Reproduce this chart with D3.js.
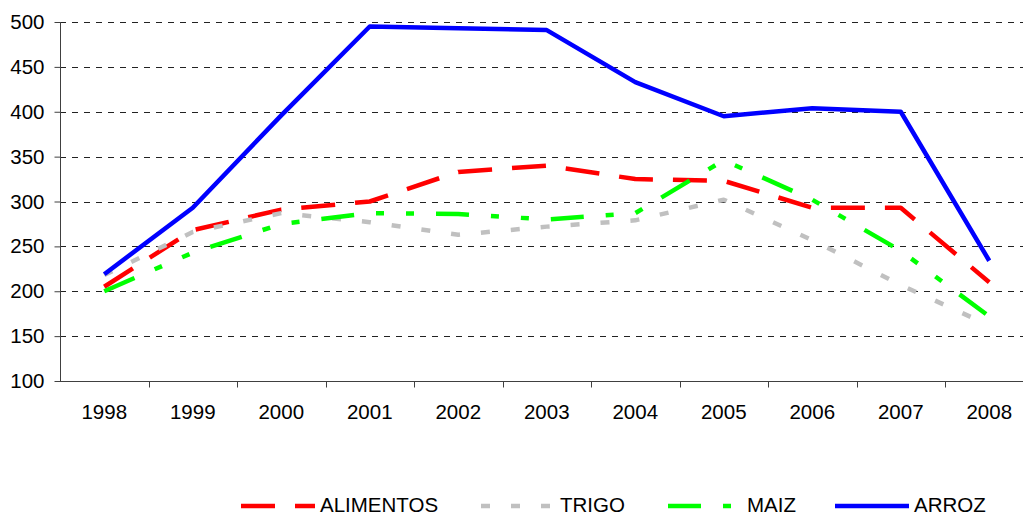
<!DOCTYPE html>
<html>
<head>
<meta charset="utf-8">
<script src="https://cdn.jsdelivr.net/npm/d3@7"></script>
<style>
html,body{margin:0;padding:0;background:#fff;}
svg{display:block;}
text{font-family:"Liberation Sans",Arial,sans-serif;fill:#000;}
</style>
</head>
<body>
<svg id="chart" width="1023" height="515"></svg>
<script>
const years = ["1998","1999","2000","2001","2002","2003","2004","2005","2006","2007","2008"];
const alimentos = [205, 268, 291, 300, 333, 340, 325, 323, 293, 293, 210];
const trigo     = [218, 266, 287, 277, 263, 272, 279, 302, 257, 207, 162];
const maiz      = [200, 243, 275, 287, 286, 280, 287, 346, 302, 245, 172];
const arroz     = [219, 293, 396, 495, 493, 491, 433, 395, 404, 400, 234];
const yTicks = [100, 150, 200, 250, 300, 350, 400, 450, 500];
const seriesNames = ["ALIMENTOS", "TRIGO", "MAIZ", "ARROZ"];

const series = [
  {name: seriesNames[0], values: alimentos, color: "#FF0000", dash: "34,20"},
  {name: seriesNames[1], values: trigo,     color: "#C0C0C0", dash: "9,21"},
  {name: seriesNames[2], values: maiz,      color: "#00FF00", dash: "33,22,8,22,8,22"},
  {name: seriesNames[3], values: arroz,     color: "#0000FF", dash: null}
];

const svg = d3.select("#chart");
const plotLeft = 60, plotRight = 1033.5, plotTop = 22, plotBottom = 381;

const x = d3.scaleBand().domain(years).range([plotLeft, plotRight]);
const y = d3.scaleLinear().domain([100, 500]).range([plotBottom, plotTop]);

// gridlines
svg.append("g").selectAll("line")
  .data(yTicks.filter(d => d > 100))
  .join("line")
  .attr("x1", plotLeft).attr("x2", 1023)
  .attr("y1", d => Math.round(y(d)) + 0.5).attr("y2", d => Math.round(y(d)) + 0.5)
  .attr("stroke", "#222").attr("stroke-width", 1)
  .attr("stroke-dasharray", "6,6");

// y axis
const yAxis = d3.axisLeft(y).tickValues(yTicks).tickSize(6).tickPadding(10);
const gy = svg.append("g").attr("transform", `translate(${plotLeft + 0.5},0)`).call(yAxis);
gy.select(".domain").attr("stroke", "#404040").attr("d", `M0,${plotTop}V${plotBottom}`);
gy.selectAll(".tick line").attr("stroke", "#404040");
gy.selectAll(".tick text").attr("font-size", 20.5).attr("font-family", "Liberation Sans, Arial, sans-serif").attr("fill", "#000");

// x axis
const xAxis = d3.axisBottom(x).tickSize(0).tickPadding(0);
const gx = svg.append("g").attr("transform", `translate(0,${plotBottom + 0.5})`).call(xAxis);
gx.select(".domain").attr("stroke", "#404040").attr("d", `M${plotLeft},0H${plotRight}`);
gx.selectAll(".tick text").attr("font-size", 20.5).attr("font-family", "Liberation Sans, Arial, sans-serif")
  .attr("fill", "#000").attr("dy", null).attr("y", 37);
// boundary ticks
gx.append("g").selectAll("line")
  .data(years)
  .join("line")
  .attr("x1", d => Math.round(x(d) + x.bandwidth()) + 0.5)
  .attr("x2", d => Math.round(x(d) + x.bandwidth()) + 0.5)
  .attr("y1", 0).attr("y2", 6)
  .attr("stroke", "#404040");

// lines
const line = d3.line()
  .x((d, i) => x(years[i]) + x.bandwidth() / 2)
  .y(d => y(d));

svg.append("g").selectAll("path")
  .data(series)
  .join("path")
  .attr("d", d => line(d.values))
  .attr("fill", "none")
  .attr("stroke", d => d.color)
  .attr("stroke-width", 4.5)
  .attr("stroke-linejoin", "round")
  .attr("stroke-dasharray", d => d.dash);

// legend
const legendX = [241, 481, 668, 835];
const lg = svg.append("g");
series.forEach((s, i) => {
  lg.append("line")
    .attr("x1", legendX[i]).attr("x2", legendX[i] + 74)
    .attr("y1", 506).attr("y2", 506)
    .attr("stroke", s.color).attr("stroke-width", 4.5)
    .attr("stroke-dasharray", s.dash);
  lg.append("text")
    .attr("x", legendX[i] + 79).attr("y", 512)
    .attr("font-size", 20.5)
    .text(s.name);
});
</script>
</body>
</html>
